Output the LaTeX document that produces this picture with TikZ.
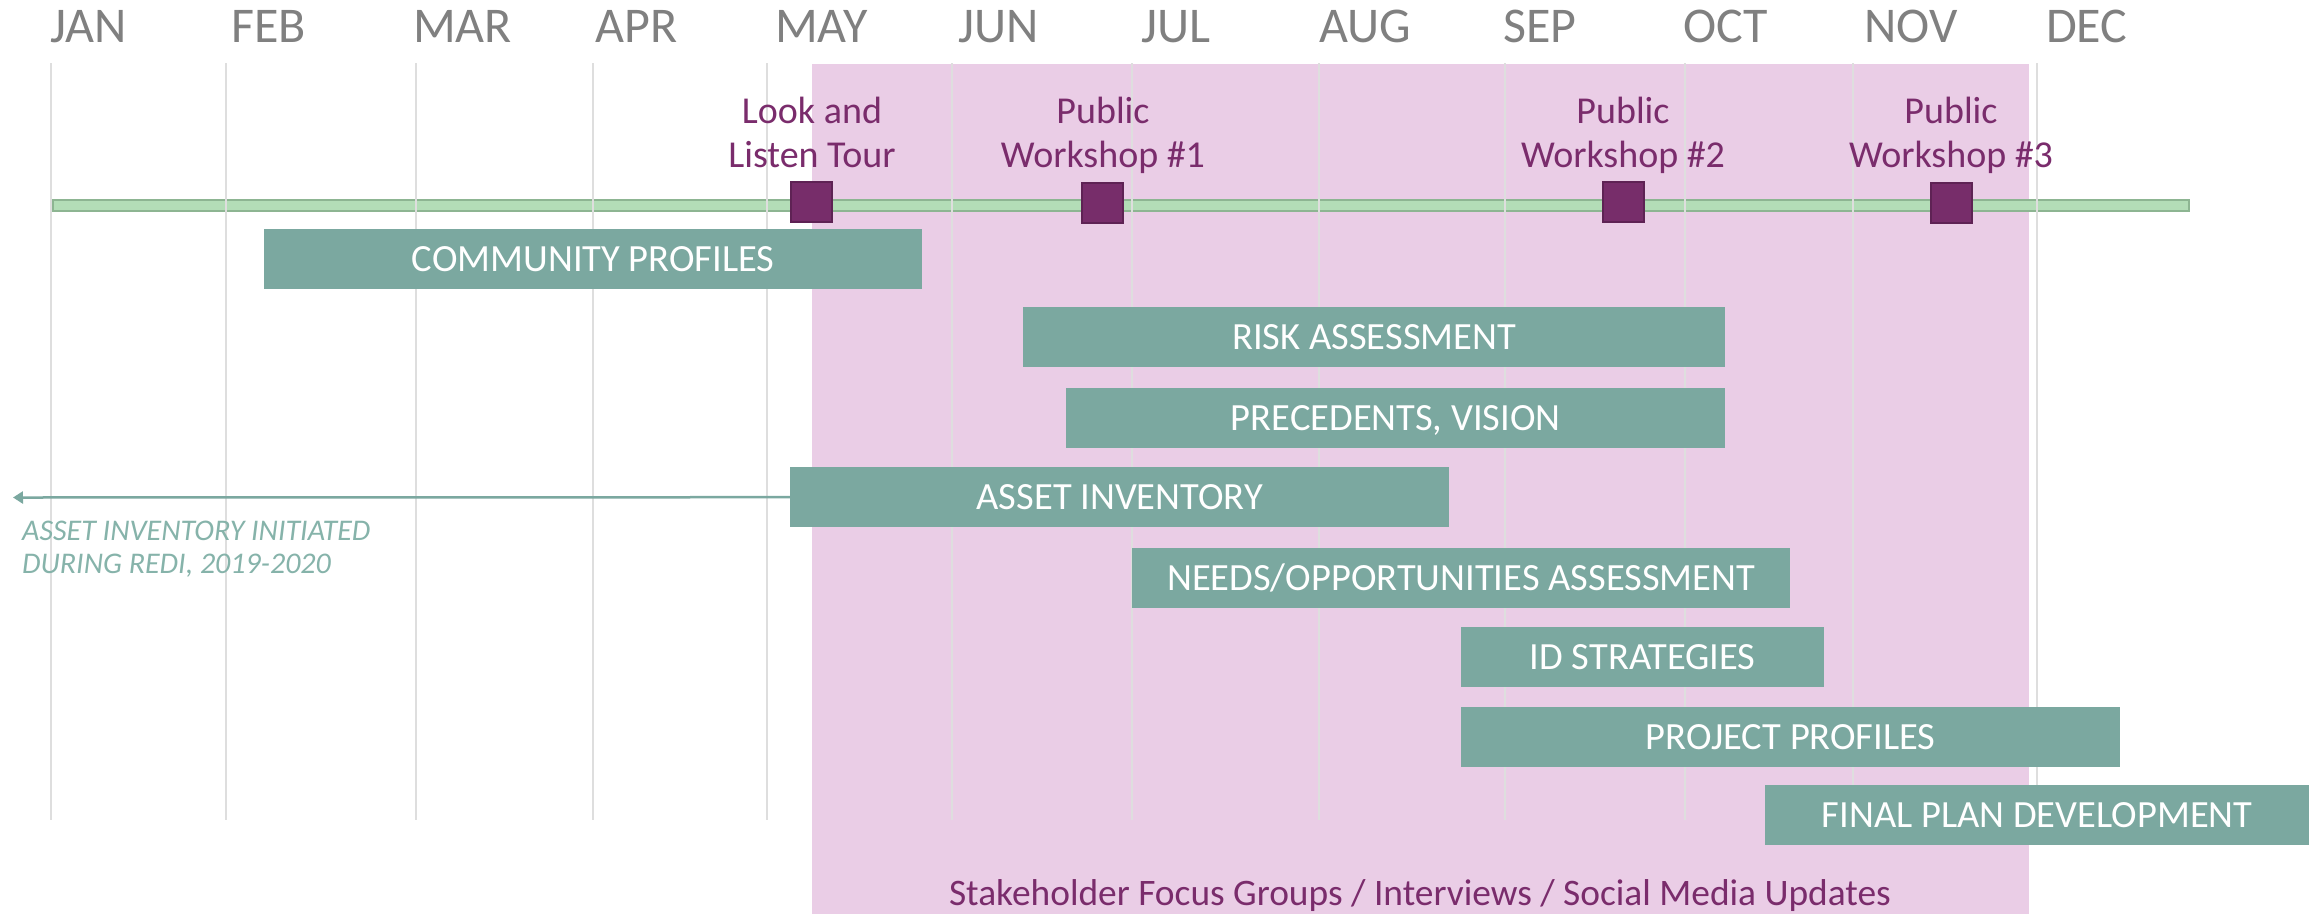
\documentclass[tikz,border=0pt]{standalone}
\usepackage{fontspec}
\setmainfont{Carlito}
\usetikzlibrary{arrows.meta}
\definecolor{barteal}{HTML}{7BA8A0}
\definecolor{notepink}{HTML}{EACDE6}
\definecolor{mspurple}{HTML}{772D6A}
\definecolor{msborder}{HTML}{5E2254}
\definecolor{txtpurple}{HTML}{7A2C6C}
\definecolor{tlgreen}{HTML}{B3DDB7}
\definecolor{tlborder}{HTML}{8DB592}
\definecolor{monthgray}{HTML}{808080}
\definecolor{gridgray}{HTML}{DEDEDE}
\definecolor{noteteal}{HTML}{86B3AA}
\tikzset{
  bar/.style={fill=barteal, text=white, anchor=north west, minimum height=60pt, inner sep=0pt,
    font=\fontsize{38.5}{46}\selectfont, text height=25pt, text depth=0pt},
  month/.style={anchor=base west, inner sep=0pt, text=monthgray, font=\fontsize{50}{60}\selectfont},
  mlabel/.style={anchor=base, inner sep=0pt, text=txtpurple, font=\fontsize{38}{46}\selectfont},
  msquare/.style={fill=mspurple, draw=msborder, line width=1.5pt, minimum width=41pt, minimum height=40pt, inner sep=0pt},
  gridline/.style={draw=gridgray, line width=1.5pt},
  noteline/.style={anchor=base west, inner sep=0pt, text=noteteal, font=\fontsize{30}{36}\selectfont\itshape},
  arrowline/.style={draw=barteal, line width=2.5pt, -{Triangle[length=10pt,width=12pt]}}
}
\begin{document}
\begin{tikzpicture}[x=1pt,y=-1pt]
\useasboundingbox (0,0) rectangle (2318,914);
\fill[white] (0,0) rectangle (2318,914);
% pink stakeholder band
\fill[notepink] (812,64) rectangle (2029,914);
% timeline
\node[fill=tlgreen, draw=tlborder, line width=1.5pt, anchor=north west, minimum width=2136pt, minimum height=11pt, inner sep=0pt] (timeline) at (52,199) {};
% grid
\foreach \gx in {51,226,416,593,767,952,1132,1319,1505,1685,1853,2037}
  \draw[gridline] (\gx,63) -- (\gx,820);
% months
\node[month] (jan) at (50,42) {JAN};
\node[month] (feb) at (231,42) {FEB};
\node[month] (mar) at (413,42) {MAR};
\node[month] (apr) at (595,42) {APR};
\node[month] (may) at (775,42) {MAY};
\node[month] (jun) at (958,42) {JUN};
\node[month] (jul) at (1141,42) {JUL};
\node[month] (aug) at (1319,42) {AUG};
\node[month] (sep) at (1503,42) {SEP};
\node[month] (oct) at (1683,42) {OCT};
\node[month] (nov) at (1864,42) {NOV};
\node[month] (dec) at (2046,42) {DEC};
% bars
\node[bar, minimum width=658pt] (cp) at (264,229) {COMMUNITY PROFILES};
\node[bar, minimum width=702pt] (ra) at (1023,307) {RISK ASSESSMENT};
\node[bar, minimum width=659pt] (pv) at (1066,388) {PRECEDENTS, VISION};
\node[bar, minimum width=659pt] (ai) at (790,467) {ASSET INVENTORY};
\node[bar, minimum width=658pt] (no) at (1132,548) {NEEDS/OPPORTUNITIES ASSESSMENT};
\node[bar, minimum width=363pt] (ids) at (1461,627) {ID STRATEGIES};
\node[bar, minimum width=659pt] (pp) at (1461,707) {PROJECT PROFILES};
\node[bar, minimum width=544pt] (fpd) at (1765,785) {FINAL PLAN DEVELOPMENT};
% milestones
\node[msquare] (m1) at (811.5,202) {};
\node[msquare] (m2) at (1102.5,203) {};
\node[msquare] (m3) at (1623.5,202) {};
\node[msquare] (m4) at (1951.5,203) {};
\node[mlabel] (m1a) at (812,123) {Look and};
\node[mlabel] (m1b) at (812,167) {Listen Tour};
\node[mlabel] (m2a) at (1103,123) {Public};
\node[mlabel] (m2b) at (1103,167) {Workshop \#1};
\node[mlabel] (m3a) at (1623,123) {Public};
\node[mlabel] (m3b) at (1623,167) {Workshop \#2};
\node[mlabel] (m4a) at (1951,123) {Public};
\node[mlabel] (m4b) at (1951,167) {Workshop \#3};
% asset inventory note
\coordinate (aiend) at (13,497.5);
\draw[arrowline] (ai.west) -- (aiend);
\node[noteline] (note1) at (22,540) {ASSET INVENTORY INITIATED};
\node[noteline] (note2) at (22,573) {DURING REDI, 2019-2020};
% bottom label
\node[mlabel, font=\fontsize{37.4}{45}\selectfont] (stake) at (1420,905) {Stakeholder Focus Groups / Interviews / Social Media Updates};
\end{tikzpicture}
\end{document}
